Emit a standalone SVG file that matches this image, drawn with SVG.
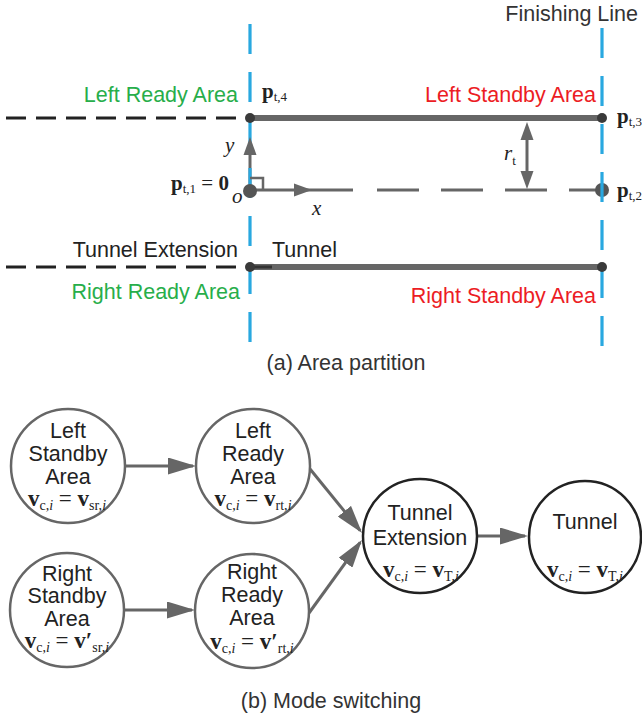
<svg xmlns="http://www.w3.org/2000/svg" width="642" height="721" viewBox="0 0 642 721">
<style>
.sans{font-family:"Liberation Sans",Arial,sans-serif;font-size:21.5px}
.lbl{fill:#222}
.green{fill:#27AE4A}
.red{fill:#EC1C24}
.m{font-family:"Liberation Serif","Times New Roman",serif;font-size:21px;fill:#222}
.f{font-size:23px}
.b{font-weight:bold}
.s{font-size:13px}
.f .s{font-size:14px}
.it{font-style:italic}
.blue{stroke:#29A8E0;stroke-width:3.2;stroke-dasharray:30 18;fill:none}
.bdash{stroke:#222;stroke-width:3;stroke-dasharray:20 10;fill:none}
.thick{stroke:#666;stroke-width:6;fill:none}
.ax{stroke:#666;stroke-width:3;fill:none}
.ah{fill:#666}
.dot{fill:#3a3a3a}
.cg{fill:#fff;stroke:#666;stroke-width:2.5}
.ck{fill:#fff;stroke:#222;stroke-width:2.5}
.nt{font-family:"Liberation Sans",Arial,sans-serif;font-size:21.5px;fill:#222;text-anchor:middle}
.conn{stroke:#666;stroke-width:3;fill:none}
</style>
<defs>
<marker id="arr" markerUnits="userSpaceOnUse" viewBox="0 0 28 17" refX="25" refY="8.5" markerWidth="28" markerHeight="17" orient="auto">
<path d="M0,0 L28,8.5 L0,17 z" fill="#666"/>
</marker>
</defs>

<!-- (a) Area partition -->
<g id="area-partition">
<text class="sans" x="638" y="21" text-anchor="end" fill="#333">Finishing Line</text>
<line class="bdash" x1="6" y1="118" x2="250" y2="118"/>
<line class="bdash" x1="6" y1="267" x2="250" y2="267"/>
<line class="thick" x1="250" y1="118" x2="602" y2="118"/>
<line class="thick" x1="250" y1="267" x2="602" y2="267"/>
<line x1="250" y1="267" x2="272" y2="267" stroke="#333" stroke-width="3"/>
<line class="ax" x1="250" y1="191" x2="250" y2="150"/>
<line class="ax" x1="250" y1="190" x2="353" y2="190"/>
<line class="ax" x1="377" y1="190" x2="602" y2="190" stroke-dasharray="42 22"/>
<circle cx="602" cy="190" r="7" fill="#555"/>
<line class="blue" x1="250" y1="24" x2="250" y2="345"/>
<line class="blue" x1="602" y1="28" x2="602" y2="348"/>
<polygon class="ah" points="250,137 256.5,155 243.5,155"/>
<polygon class="ah" points="312,190 294,183.5 294,196.5"/>
<polyline points="250,178 263,178 263,190" fill="none" stroke="#666" stroke-width="2.5"/>
<circle cx="250" cy="191" r="7" fill="#555"/>
<circle class="dot" cx="250" cy="118" r="5"/>
<circle class="dot" cx="602" cy="118" r="5"/>
<circle class="dot" cx="250" cy="267" r="5"/>
<circle class="dot" cx="602" cy="267" r="5"/>
<line class="ax" x1="527" y1="136" x2="527" y2="176"/>
<polygon class="ah" points="527,122 533.5,140 520.5,140"/>
<polygon class="ah" points="527,189 533.5,171 520.5,171"/>

<text class="sans green" x="238" y="102" text-anchor="end">Left Ready Area</text>
<text class="sans red" x="596" y="102" text-anchor="end">Left Standby Area</text>
<text class="sans lbl" x="238" y="257" text-anchor="end">Tunnel Extension</text>
<text class="sans lbl" x="272" y="257">Tunnel</text>
<text class="sans green" x="240" y="299" text-anchor="end">Right Ready Area</text>
<text class="sans red" x="596" y="303" text-anchor="end">Right Standby Area</text>
<text class="sans" x="346" y="370" text-anchor="middle" fill="#333">(a) Area partition</text>

<text class="m" x="262" y="98" font-size="20"><tspan class="b">p</tspan><tspan class="s" dy="3">t,4</tspan></text>
<text class="m" x="617" y="123" font-size="20"><tspan class="b">p</tspan><tspan class="s" dy="3">t,3</tspan></text>
<text class="m" x="617" y="197" font-size="20"><tspan class="b">p</tspan><tspan class="s" dy="3">t,2</tspan></text>
<text class="m" x="171" y="190" font-size="21"><tspan class="b">p</tspan><tspan class="s" dy="3">t,1</tspan><tspan dy="-3"> = </tspan><tspan class="b">0</tspan></text>
<text class="m it" x="232" y="203" font-size="20">o</text>
<text class="m it" x="225" y="152" font-size="20">y</text>
<text class="m it" x="312" y="215" font-size="20">x</text>
<text class="m" x="504" y="160" font-size="20"><tspan class="it">r</tspan><tspan class="s" dy="5">t</tspan></text>
</g>

<!-- (b) Mode switching -->
<g id="connectors">
<line class="conn" x1="125" y1="466" x2="193" y2="466" marker-end="url(#arr)"/>
<line class="conn" x1="124" y1="610" x2="192" y2="610" marker-end="url(#arr)"/>
<line class="conn" x1="310" y1="469" x2="360.2" y2="530.6" marker-end="url(#arr)"/>
<line class="conn" x1="309" y1="613" x2="360.2" y2="542.4" marker-end="url(#arr)"/>
<line class="conn" x1="477" y1="536" x2="525" y2="536" marker-end="url(#arr)"/>
</g>

<g id="left-standby">
<circle class="cg" cx="68" cy="466" r="57"/>
<text class="nt" x="68" y="438">Left</text>
<text class="nt" x="68" y="461">Standby</text>
<text class="nt" x="68" y="484">Area</text>
<text class="m f" x="67" y="506" text-anchor="middle"><tspan class="b">v</tspan><tspan class="s" dy="4">c,</tspan><tspan class="s it">i</tspan><tspan dy="-4"> = </tspan><tspan class="b">v</tspan><tspan class="s" dy="4">sr,</tspan><tspan class="s it">i</tspan></text>
</g>

<g id="left-ready">
<circle class="cg" cx="253" cy="466" r="57"/>
<text class="nt" x="253" y="438">Left</text>
<text class="nt" x="253" y="461">Ready</text>
<text class="nt" x="253" y="484">Area</text>
<text class="m f" x="253" y="506" text-anchor="middle"><tspan class="b">v</tspan><tspan class="s" dy="4">c,</tspan><tspan class="s it">i</tspan><tspan dy="-4"> = </tspan><tspan class="b">v</tspan><tspan class="s" dy="4">rt,</tspan><tspan class="s it">i</tspan></text>
</g>

<g id="right-standby">
<circle class="cg" cx="67" cy="610" r="57"/>
<text class="nt" x="67" y="581">Right</text>
<text class="nt" x="67" y="603">Standby</text>
<text class="nt" x="67" y="626">Area</text>
<text class="m f" x="67" y="648" text-anchor="middle"><tspan class="b">v</tspan><tspan class="s" dy="4">c,</tspan><tspan class="s it">i</tspan><tspan dy="-4"> = </tspan><tspan class="b">v′</tspan><tspan class="s" dy="4">sr,</tspan><tspan class="s it">i</tspan></text>
</g>

<g id="right-ready">
<circle class="cg" cx="252" cy="611" r="57"/>
<text class="nt" x="252" y="579">Right</text>
<text class="nt" x="252" y="602">Ready</text>
<text class="nt" x="252" y="625">Area</text>
<text class="m f" x="252" y="649" text-anchor="middle"><tspan class="b">v</tspan><tspan class="s" dy="4">c,</tspan><tspan class="s it">i</tspan><tspan dy="-4"> = </tspan><tspan class="b">v′</tspan><tspan class="s" dy="4">rt,</tspan><tspan class="s it">i</tspan></text>
</g>

<g id="tunnel-extension">
<circle class="ck" cx="420" cy="536" r="57"/>
<text class="nt" x="420" y="520">Tunnel</text>
<text class="nt" x="420" y="545">Extension</text>
<text class="m f" x="421" y="577" text-anchor="middle"><tspan class="b">v</tspan><tspan class="s" dy="4">c,</tspan><tspan class="s it">i</tspan><tspan dy="-4"> = </tspan><tspan class="b">v</tspan><tspan class="s" dy="4">T,</tspan><tspan class="s it">i</tspan></text>
</g>

<g id="tunnel">
<circle class="ck" cx="585" cy="537" r="56"/>
<text class="nt" x="585" y="529">Tunnel</text>
<text class="m f" x="585" y="577" text-anchor="middle"><tspan class="b">v</tspan><tspan class="s" dy="4">c,</tspan><tspan class="s it">i</tspan><tspan dy="-4"> = </tspan><tspan class="b">v</tspan><tspan class="s" dy="4">T,</tspan><tspan class="s it">i</tspan></text>
</g>

<text class="sans" x="331" y="708" text-anchor="middle" fill="#333">(b) Mode switching</text>
</svg>
